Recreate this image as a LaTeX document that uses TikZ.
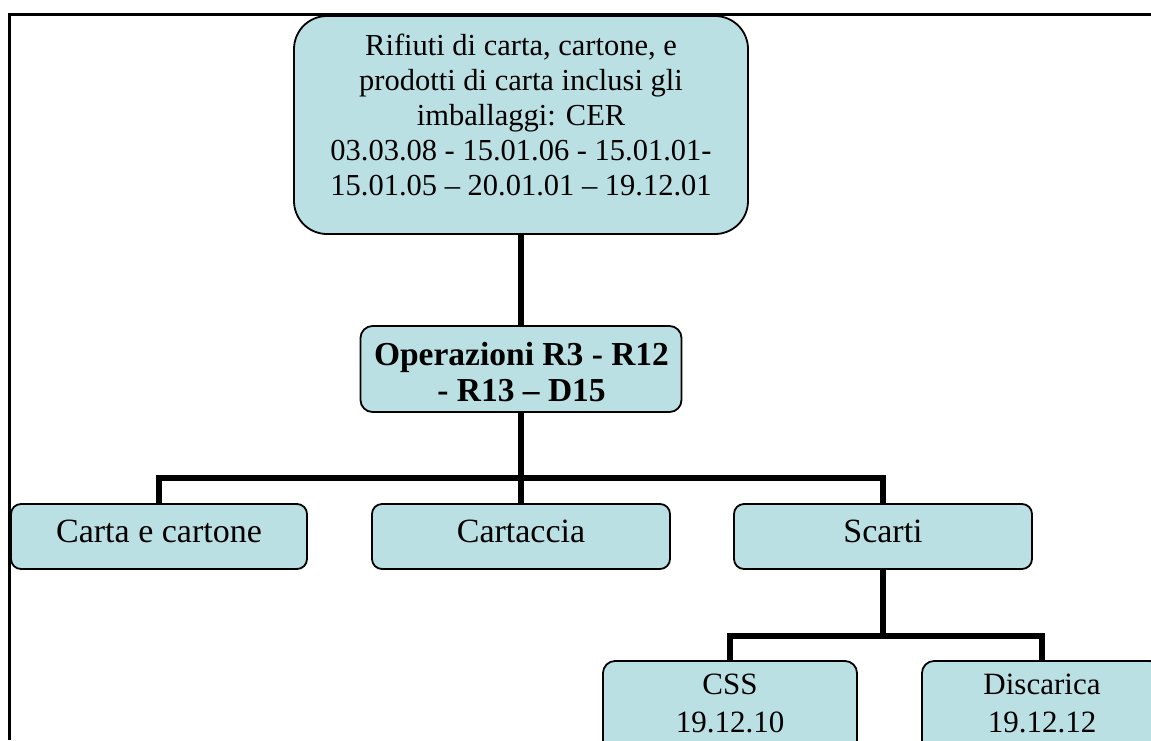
\documentclass[tikz,border=0pt]{standalone}
\usepackage{fontspec}
\setmainfont{Liberation Serif}
\definecolor{boxfill}{RGB}{187,224,227}
\tikzset{
  box/.style={draw=black, line width=1.8pt, fill=boxfill, rectangle, inner sep=0pt},
  conn/.style={line width=6pt, draw=black},
  lbl/.style={inner sep=0pt, align=center, text=black},
  frameline/.style={line width=2.3pt, draw=black}
}
\begin{document}
\begin{tikzpicture}[x=1pt,y=-1pt]
\useasboundingbox (0,0) rectangle (1151,740);
\clip (0,0) rectangle (1151,740);
% frame
\draw[frameline] (9.5,740) -- (9.5,14.5) -- (1151,14.5);
% boxes
\node[box, rounded corners=33pt, minimum width=454pt, minimum height=218pt] (src) at (521,125) {};
\node[box, rounded corners=12pt, minimum width=321pt, minimum height=86pt] (ops) at (521,369) {};
\node[box, rounded corners=10pt, minimum width=296pt, minimum height=65pt] (carta) at (159,536.5) {};
\node[box, rounded corners=10pt, minimum width=298pt, minimum height=65pt] (cartaccia) at (521,536.5) {};
\node[box, rounded corners=10pt, minimum width=298pt, minimum height=65pt] (scarti) at (883,536.5) {};
\node[box, rounded corners=12pt, minimum width=254pt, minimum height=109pt] (css) at (730,715.5) {};
\node[box, rounded corners=12pt, minimum width=240pt, minimum height=109pt] (disc) at (1042,715.5) {};
% texts
\node[lbl, font=\fontsize{30.5}{35}\selectfont] (srcT) at (521,114.75)
  {Rifiuti di carta, cartone, e\\prodotti di carta inclusi gli\\imballaggi: CER\\03.03.08 - 15.01.06 - 15.01.01-\\15.01.05 – 20.01.01 – 19.12.01};
\node[lbl, font=\fontsize{33.5}{36}\selectfont\bfseries] (opsT) at (521.5,372.5)
  {Operazioni R3 - R12\\- R13 – D15};
\node[lbl, anchor=base, font=\fontsize{34}{40}\selectfont] (cartaT) at (159,542) {Carta e cartone};
\node[lbl, anchor=base, font=\fontsize{34}{40}\selectfont] (cartacciaT) at (521,542) {Cartaccia};
\node[lbl, anchor=base, font=\fontsize{34}{40}\selectfont] (scartiT) at (883,542) {Scarti};
\node[lbl, font=\fontsize{31}{38}\selectfont] (cssT) at (730,703.5) {CSS\\19.12.10};
\node[lbl, font=\fontsize{31}{38}\selectfont] (discT) at (1042,703.5) {Discarica\\19.12.12};
% connectors
\coordinate (bus1) at (521,478);
\coordinate (bus2) at (883,636);
\draw[conn] (src.south) -- (ops.north);
\draw[conn] (ops.south) -- (cartaccia.north);
\draw[conn] (carta.north) |- (bus1) -| (scarti.north);
\draw[conn] (scarti.south) -- (bus2);
\draw[conn] (css.north) |- (bus2) -| (disc.north);
\end{tikzpicture}
\end{document}
